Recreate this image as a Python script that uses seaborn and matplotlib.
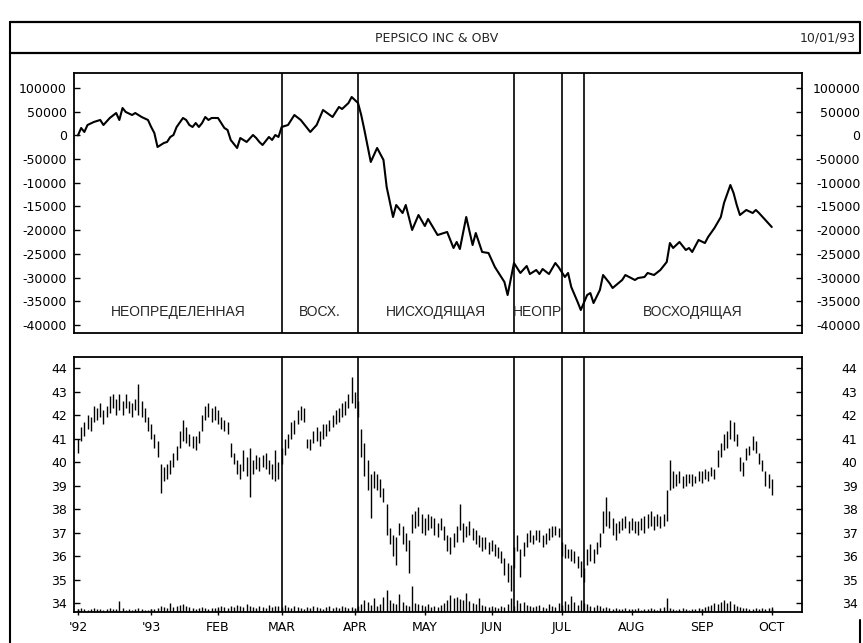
import matplotlib
matplotlib.use("Agg")
import matplotlib.pyplot as plt
from matplotlib.lines import Line2D
import numpy as np
import pandas as pd
import seaborn as sns

# trading days shown on the chart
days = pd.bdate_range("1992-12-01", "1993-10-01")

# OBV line vertices (trading day index, value)
obv_day = [0, 1, 2, 3, 5, 7, 8, 10, 12, 13, 14, 15, 17, 18, 20, 22, 23, 24, 25, 27,
           28, 29, 30, 31, 33, 34, 35, 36, 37, 38, 39, 40, 41, 42, 44, 45, 46, 47, 48, 50,
           51, 53, 55, 56, 57, 58, 60, 61, 62, 63, 64, 66, 68, 70, 73, 75, 77, 80, 82, 83,
           85, 86, 88, 89, 90, 92, 94, 96, 97, 99, 100, 102, 103, 105, 107, 109, 110, 113, 116, 118,
           119, 120, 122, 124, 125, 127, 129, 131, 132, 134, 135, 137, 139, 141, 142, 144, 145, 146, 148, 150,
           151, 153, 154, 155, 157, 158, 160, 161, 162, 164, 165, 167, 168, 171, 172, 175, 176, 178, 179, 181,
           183, 185, 186, 187, 189, 191, 192, 193, 195, 197, 198, 200, 202, 203, 205, 206, 207, 208, 210, 212,
           213, 214, 216, 218]
obv_value = [0, 15600, 7200, 21900, 28300, 32500, 21900, 36700, 47200, 32500, 57800, 49400, 43000, 47200, 38800, 32500, 17700, 5000, -24500, -16000,
             -13900, -3400, 800, 17700, 36700, 32500, 21900, 17700, 26100, 17700, 26100, 38800, 32500, 36700, 36700, 26100, 15600, 11400, -9700, -26600,
             -5500, -13900, 800, -5500, -13900, -20300, -3400, -9700, 800, -3400, 17700, 21900, 43000, 32500, 7200, 21900, 53600, 38800, 59900, 55700,
             68300, 81000, 68300, 43000, 11400, -56100, -26600, -51900, -108900, -172200, -146900, -163800, -146900, -199600, -168000, -191200, -176400, -210200, -203800, -237600,
             -224900, -239700, -172200, -231300, -206000, -246000, -248200, -277700, -288200, -309300, -336800, -269300, -290300, -275600, -292500, -284000, -292500, -281900, -292500, -269300,
             -277700, -298800, -290300, -319900, -351500, -368400, -336800, -332600, -353700, -326200, -294600, -311500, -322000, -305100, -294600, -305100, -300900, -298800, -290300, -294600,
             -284000, -267100, -227100, -237600, -224900, -241800, -237600, -246000, -220700, -227100, -214400, -195400, -172200, -142700, -104700, -121600, -146900, -168000, -157400, -163800,
             -157400, -163800, -178500, -193300]

# daily price range
price_low = [40.4, 40.9, 41.1, 41.4, 41.3, 41.7, 41.8, 41.9, 41.6, 41.9,
             42.1, 42.3, 42.0, 42.2, 42.0, 42.3, 42.1, 41.9, 42.2, 42.0,
             41.9, 41.7, 41.3, 41.0, 40.6, 40.2, 38.7, 39.2, 39.3, 39.5,
             39.8, 40.1, 40.6, 40.9, 40.8, 40.7, 40.6, 40.5, 40.8, 41.3,
             41.8, 41.9, 41.7, 41.8, 41.6, 41.4, 41.3, 41.2, 40.2, 39.9,
             39.5, 39.3, 39.6, 39.4, 38.5, 39.5, 39.7, 39.6, 39.8, 39.7,
             39.5, 39.3, 39.2, 39.3, 39.9, 40.3, 40.6, 41.0, 41.2, 41.6,
             41.8, 41.7, 40.6, 40.5, 40.8, 40.9, 40.7, 41.0, 41.1, 41.3,
             41.5, 41.6, 41.7, 41.9, 42.0, 42.3, 42.5, 42.3, 41.9, 40.2,
             39.4, 38.8, 37.6, 38.9, 38.8, 38.5, 38.3, 36.9, 36.5, 36.0,
             35.6, 36.9, 36.5, 36.2, 35.3, 37.0, 37.2, 37.3, 37.0, 36.9,
             37.1, 37.2, 36.9, 36.8, 37.1, 36.7, 36.2, 36.1, 36.4, 36.6,
             37.1, 36.6, 36.8, 36.9, 36.7, 36.5, 36.4, 36.2, 36.3, 36.1,
             36.2, 36.0, 35.9, 35.7, 35.2, 34.9, 34.5, 35.5, 36.2, 35.1,
             36.0, 36.4, 36.6, 36.5, 36.7, 36.6, 36.4, 36.5, 36.7, 36.8,
             36.9, 36.8, 36.0, 35.9, 35.9, 35.8, 35.7, 35.5, 35.1, 34.9,
             35.6, 35.8, 35.7, 36.1, 36.4, 37.0, 37.3, 37.2, 36.9, 36.7,
             37.0, 37.1, 37.2, 37.0, 37.1, 37.0, 36.9, 37.1, 37.0, 37.2,
             37.3, 37.1, 37.3, 37.2, 37.3, 37.5, 38.8, 38.9, 39.0, 39.1,
             38.9, 39.0, 39.1, 39.0, 39.1, 39.2, 39.1, 39.3, 39.2, 39.4,
             39.3, 39.8, 40.2, 40.5, 40.6, 41.0, 40.9, 40.7, 39.6, 39.4,
             40.1, 40.3, 40.5, 40.4, 39.9, 39.6, 39.0, 38.9, 38.6]
price_high = [41.0, 41.5, 41.7, 42.0, 41.9, 42.4, 42.3, 42.5, 42.2, 42.4,
              42.8, 42.9, 42.7, 42.9, 42.6, 42.9, 42.6, 42.5, 42.7, 43.3,
              42.6, 42.3, 41.9, 41.6, 41.2, 40.9, 39.9, 39.8, 39.9, 40.1,
              40.4, 40.7, 41.3, 41.8, 41.5, 41.2, 41.1, 41.1, 41.3, 42.0,
              42.4, 42.5, 42.3, 42.4, 42.2, 41.9, 41.8, 41.7, 40.8, 40.4,
              40.1, 39.9, 40.5, 40.2, 40.6, 40.1, 40.3, 40.2, 40.3, 40.4,
              40.1, 39.9, 40.5, 40.0, 40.6, 41.0, 41.2, 41.7, 41.8, 42.2,
              42.4, 42.3, 41.0, 41.0, 41.3, 41.5, 41.3, 41.6, 41.6, 41.8,
              42.0, 42.2, 42.3, 42.5, 42.6, 42.9, 43.6, 43.0, 42.6, 41.4,
              40.8, 40.1, 39.5, 39.6, 39.5, 39.3, 38.9, 38.2, 37.2, 36.9,
              36.8, 37.4, 37.3, 37.0, 36.7, 37.8, 37.9, 38.1, 37.8, 37.6,
              37.8, 37.7, 37.6, 37.4, 37.6, 37.3, 36.9, 36.8, 37.0, 37.3,
              38.2, 37.4, 37.3, 37.5, 37.2, 37.1, 36.9, 36.8, 36.8, 36.6,
              36.7, 36.5, 36.4, 36.2, 35.9, 35.7, 35.6, 36.4, 36.9, 36.3,
              36.6, 37.0, 37.1, 36.9, 37.1, 37.1, 36.9, 37.0, 37.2, 37.3,
              37.3, 37.2, 36.6, 36.5, 36.3, 36.3, 36.2, 36.0, 35.8, 35.5,
              36.3, 36.5, 36.3, 36.6, 37.0, 37.9, 38.5, 37.9, 37.6, 37.4,
              37.5, 37.6, 37.7, 37.5, 37.6, 37.5, 37.5, 37.6, 37.7, 37.8,
              37.9, 37.7, 37.8, 37.7, 37.8, 38.8, 40.1, 39.6, 39.5, 39.6,
              39.4, 39.5, 39.5, 39.5, 39.4, 39.6, 39.6, 39.7, 39.6, 39.8,
              39.7, 40.5, 40.8, 41.2, 41.3, 41.8, 41.7, 41.2, 40.2, 40.0,
              40.6, 40.7, 41.1, 40.9, 40.4, 40.1, 39.6, 39.5, 39.3]

# daily volume (relative units)
volume = [3, 4, 3, 2, 3, 4, 3, 3, 2, 3, 4, 3, 3, 11, 4, 2, 3, 2, 3, 4, 3, 2,
          2, 3, 3, 4, 6, 5, 4, 9, 5, 6, 7, 8, 6, 5, 4, 3, 4, 5, 4, 3, 4,
          4, 5, 6, 5, 4, 6, 5, 7, 6, 5, 8, 6, 5, 4, 6, 5, 4, 7, 5, 6,
          6, 5, 7, 5, 4, 6, 5, 4, 3, 5, 4, 6, 5, 4, 3, 5, 6, 4, 5, 4, 6, 5, 4,
          5, 4, 6, 8, 12, 10, 7, 14, 6, 8, 15, 22, 12, 9, 8, 18, 10, 7, 6, 26, 9, 8,
          7, 6, 8, 5, 6, 5, 7, 9, 12, 17, 14, 15, 13, 12, 19, 11, 9, 8, 14, 7, 6,
          5, 6, 5, 4, 6, 5, 8, 14, 6, 12, 9, 10, 7, 6, 5, 6, 7, 5, 4, 8, 6, 5,
          9, 7, 11, 8, 16, 10, 7, 12, 9, 8, 6, 5, 7, 6, 4, 5, 4, 3, 4, 3, 3, 4,
          3, 2, 3, 4, 2, 3, 3, 4, 3, 2, 4, 5, 14, 4, 3, 2, 3, 4, 3, 2, 3, 3,
          4, 3, 5, 6, 7, 9, 8, 10, 12, 9, 11, 8, 6, 5, 4, 4, 3, 3, 4, 3, 4, 3,
          4, 5]

# trend zones
zone_bounds = ["1993-03-01", "1993-04-02", "1993-06-10", "1993-07-01", "1993-07-12"]
zone_labels = ["НЕОПРЕДЕЛЕННАЯ", "ВОСХ.", "НИСХОДЯЩАЯ", "НЕОПР", "", "ВОСХОДЯЩАЯ"]

obv_ticks = [100000, 50000, 0, -50000, -100000, -150000, -200000, -250000, -300000, -350000, -400000]
obv_tick_labels = ["100000", "50000", "0", "-50000", "-10000", "-15000", "-20000",
                   "-25000", "-30000", "-35000", "-40000"]
price_ticks = [34, 35, 36, 37, 38, 39, 40, 41, 42, 43, 44]
month_starts = ["1992-12-01", "1993-01-01", "1993-02-01", "1993-03-01", "1993-04-01", "1993-05-01",
                "1993-06-01", "1993-07-01", "1993-08-01", "1993-09-01", "1993-10-01"]
month_labels = ["'92", "'93", "FEB", "MAR", "APR", "MAY", "JUN", "JUL", "AUG", "SEP", "OCT"]

sns.set_style("ticks")
plt.rcParams['font.family'] = ['DejaVu Sans']

idx = np.arange(len(days))
bounds = [days.searchsorted(pd.Timestamp(d)) for d in zone_bounds]
xlo, xhi = -1.26, 227.5

fig = plt.figure(figsize=(8.63, 6.43), dpi=100)
ax1 = fig.add_axes([0.0857, 0.4821, 0.8436, 0.4044])
ax2 = fig.add_axes([0.0857, 0.0482, 0.8436, 0.3966])

# --- OBV panel
sns.lineplot(x=obv_day, y=obv_value, ax=ax1, color='black', lw=1.5)
ax1.set_xlim(xlo, xhi)
ax1.set_ylim(-416950, 131650)
ax1.set_xticks([])
ax1.set_yticks(obv_ticks)
ax1.set_yticklabels(obv_tick_labels)
ax1.set_xlabel('')
ax1.set_ylabel('')

edges = [xlo] + bounds + [xhi]
for b in bounds:
    ax1.axvline(b, color='black', lw=1.2)
for lab, a, b in zip(zone_labels, edges[:-1], edges[1:]):
    if lab:
        ax1.text((a + b) / 2, 0.081, lab, transform=ax1.get_xaxis_transform(),
                 ha='center', va='center', fontsize=10, family=['Liberation Sans', 'DejaVu Sans'])

# --- price panel
pmin, pmax = 33.62, 44.47
ax2.vlines(idx, price_low, price_high, color='black', lw=1.0)
ax2.vlines(idx, pmin, pmin + np.array(volume) / 23.5, color='black', lw=1.0)
for b in bounds:
    ax2.axvline(b, color='black', lw=1.2)
ax2.set_xlim(xlo, xhi)
ax2.set_ylim(pmin, pmax)
ax2.set_yticks(price_ticks)
ax2.set_yticklabels([str(t) for t in price_ticks])
ax2.set_xticks([days.searchsorted(pd.Timestamp(d)) for d in month_starts])
ax2.set_xticklabels(month_labels)

# right hand scales
for ax, ticks, labels, pad in [(ax1, obv_ticks, obv_tick_labels, 42), (ax2, price_ticks, [str(t) for t in price_ticks], 40)]:
    axr = ax.twinx()
    axr.set_ylim(ax.get_ylim())
    axr.set_yticks(ticks)
    axr.set_yticklabels(labels, ha='right')
    axr.tick_params(axis='y', direction='in', length=4, width=1, labelsize=9, pad=pad, colors='black')
    for s in axr.spines.values():
        s.set_visible(False)

for ax in (ax1, ax2):
    ax.tick_params(axis='y', direction='in', length=4, width=1, labelsize=9, pad=5, colors='black')
    for s in ax.spines.values():
        s.set_visible(True)
        s.set_color('black')
        s.set_linewidth(1.3)
ax2.tick_params(axis='x', direction='inout', length=5, width=1, labelsize=9, pad=4, colors='black')

# --- header and outer frame
W, H = 863, 643
def fline(x0, y0, x1, y1, lw=1.5):
    fig.add_artist(Line2D([x0 / W, x1 / W], [1 - y0 / H, 1 - y1 / H], transform=fig.transFigure,
                          color='black', lw=lw))

fline(10, 22, 860, 22, 1.6)
fline(10, 53, 860, 53, 1.6)
fline(10, 22, 10, 643)
fline(860, 22, 860, 53)
fline(860, 620, 860, 643)
fig.text(437 / W, 1 - 38 / H, "PEPSICO INC & OBV", ha='center', va='center', fontsize=9)
fig.text(856 / W, 1 - 38 / H, "10/01/93", ha='right', va='center', fontsize=9)

fig.savefig("out.png", dpi=100, facecolor='white')
